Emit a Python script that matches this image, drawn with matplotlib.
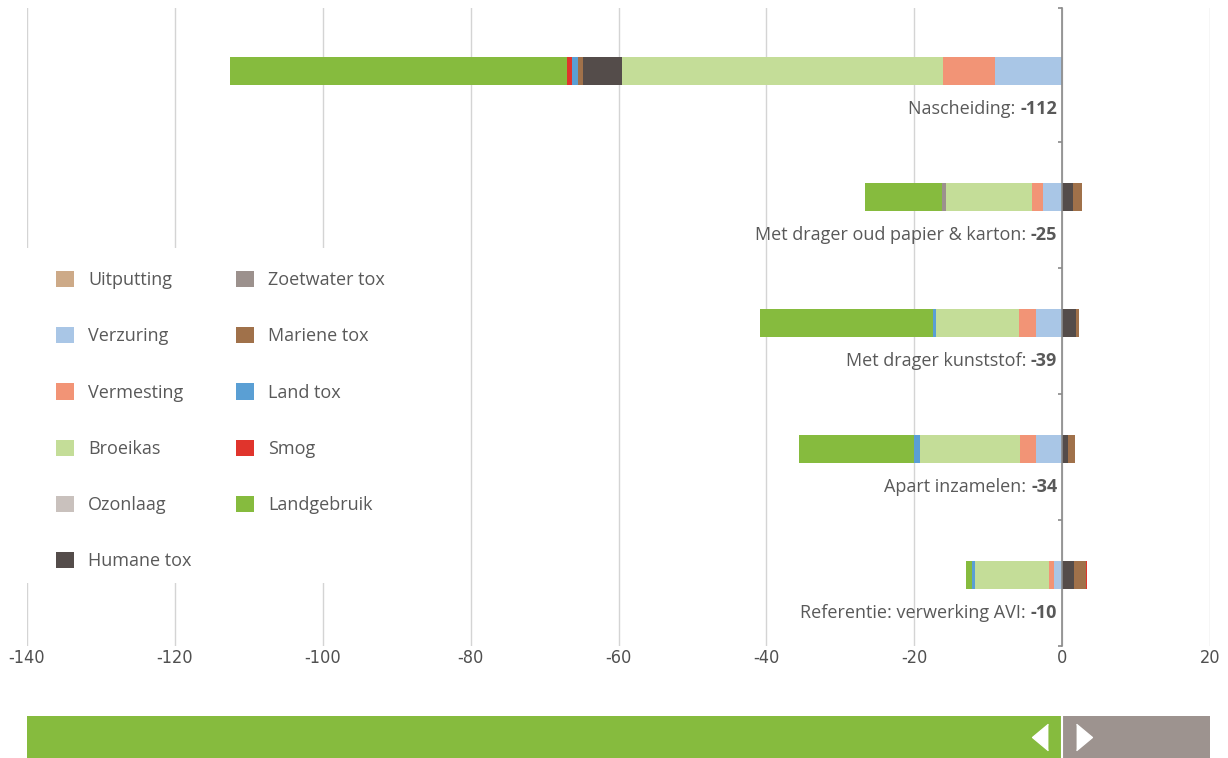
import matplotlib
matplotlib.use("Agg")
import matplotlib.pyplot as plt
from matplotlib.patches import Rectangle
import numpy as np

categories = ["Nascheiding", "Met drager oud papier & karton", "Met drager kunststof",
              "Apart inzamelen", "Referentie: verwerking AVI"]
totals = ["-112", "-25", "-39", "-34", "-10"]

series_names = ["Uitputting", "Verzuring", "Vermesting", "Broeikas", "Ozonlaag", "Humane tox",
                "Zoetwater tox", "Mariene tox", "Land tox", "Smog", "Landgebruik"]
uitputting = [0, 0, 0, 0, 0]
verzuring = [-9.1, -2.6, -3.6, -3.5, -1.1]
vermesting = [-7.0, -1.5, -2.3, -2.2, -0.7]
broeikas = [-43.4, -11.6, -11.1, -13.5, -10.0]
ozonlaag = [0, 0, 0, 0, 0]
humane_tox = [-5.3, 1.5, 1.9, 0.8, 1.6]
zoetwater_tox = [0, -0.5, 0, 0, 0]
mariene_tox = [-0.7, 1.2, 0.4, 0.9, 1.6]
land_tox = [-0.8, 0, -0.5, -0.8, -0.4]
smog = [-0.7, 0, 0, 0, 0.2]
landgebruik = [-45.6, -10.4, -23.3, -15.6, -0.8]

colors = ["#cdaa88", "#a9c6e6", "#f29476", "#c4dd98", "#c9c1bd", "#544c4a",
          "#9c918d", "#a0714a", "#5a9fd4", "#e0342c", "#86bb3e"]

x_ticks = [-140, -120, -100, -80, -60, -40, -20, 0, 20]

series_values = [uitputting, verzuring, vermesting, broeikas, ozonlaag, humane_tox,
                 zoetwater_tox, mariene_tox, land_tox, smog, landgebruik]

TEXT = "#595959"
FONT = ["Open Sans", "DejaVu Sans"]

W, H = 1228, 758
fig = plt.figure(figsize=(W / 100, H / 100), dpi=100)
ax_left, ax_right = 27 / W, 1210 / W
ax_top, ax_bot = 1 - 8 / H, 1 - 646 / H
ax = fig.add_axes([ax_left, ax_bot, ax_right - ax_left, ax_top - ax_bot])

y = np.arange(len(categories))
pos_base = np.zeros(len(categories))
neg_base = np.zeros(len(categories))
handles = []
for name, vals, c in zip(series_names, series_values, colors):
    v = np.array(vals, dtype=float)
    left = np.where(v >= 0, pos_base, neg_base)
    ax.barh(y, v, left=left, height=0.222, color=c, linewidth=0, zorder=3)
    pos_base = pos_base + np.where(v > 0, v, 0)
    neg_base = neg_base + np.where(v < 0, v, 0)
    handles.append(Rectangle((0, 0), 1, 1, facecolor=c, edgecolor="none", label=name))

ax.set_xlim(-140, 20)
ax.set_ylim(len(categories) - 1 + 0.563, -0.5)
ax.set_xticks(x_ticks)
ax.set_xticklabels([str(t) for t in x_ticks], family="DejaVu Sans", stretch="condensed",
                   fontsize=13, color="#505050")
ax.tick_params(axis="x", length=0, pad=2)
ax.grid(axis="x", color="#d4d4d4", linewidth=1, zorder=0)
ax.set_axisbelow(True)

for s in ["top", "right", "bottom"]:
    ax.spines[s].set_visible(False)
ax.spines["left"].set_position(("data", 0))
ax.spines["left"].set_color("#8a8a8a")
ax.spines["left"].set_linewidth(1.2)
ax.spines["left"].set_zorder(4)
ax.set_yticks([-0.5] + [i + 0.563 for i in range(len(categories))])
ax.set_yticklabels([])
ax.tick_params(axis="y", direction="out", length=3, color="#8a8a8a", width=1.2)

# category labels: normal prefix + bold value
for i, (cat, tot) in enumerate(zip(categories, totals)):
    bt = ax.annotate(tot, xy=(0, i), xytext=(-5, -38), textcoords="offset pixels",
                     ha="right", va="center", fontsize=13, fontweight="bold",
                     family=FONT, color=TEXT, zorder=5)
    ax.annotate(cat + ": ", xy=(0, 0), xycoords=bt, ha="right", va="bottom",
                fontsize=13, family=FONT, color=TEXT, zorder=5)

# white box hiding gridlines behind legend
ax.add_patch(Rectangle((-0.01, (646 - 583) / 638), (400 - 15) / 1183, (583 - 248) / 638,
                       transform=ax.transAxes, facecolor="white", edgecolor="none",
                       zorder=1, clip_on=False))

leg = fig.legend(handles=handles, ncol=2, loc="upper left",
                 bbox_to_anchor=(56 / W, 1 - 271 / H), frameon=False,
                 prop={"family": FONT, "size": 13}, labelcolor=TEXT,
                 handlelength=1.0, handleheight=1.0, handletextpad=0.78,
                 labelspacing=2.1, columnspacing=2.45, borderpad=0, borderaxespad=0)

# bottom direction bar
bx = fig.add_axes([ax_left, 0, ax_right - ax_left, 42 / H])
bx.set_xlim(-140, 20)
bx.set_ylim(-0.5, 0.5)
bx.barh(0, -140, height=1, color="#86bb3e", linewidth=0)
bx.barh(0, 20, height=1, color="#9d938f", linewidth=0)
bx.axvline(0, color="white", linewidth=1.5)
tri_l = [(0.6, 1), (-0.6, 0), (0.6, -1)]
tri_r = [(-0.6, 1), (0.6, 0), (-0.6, -1)]
bx.plot([-3.0], [0], marker=tri_l, markersize=19, color="white", linestyle="none")
bx.plot([3.0], [0], marker=tri_r, markersize=19, color="white", linestyle="none")
bx.axis("off")

fig.savefig("out.png", dpi=100)
